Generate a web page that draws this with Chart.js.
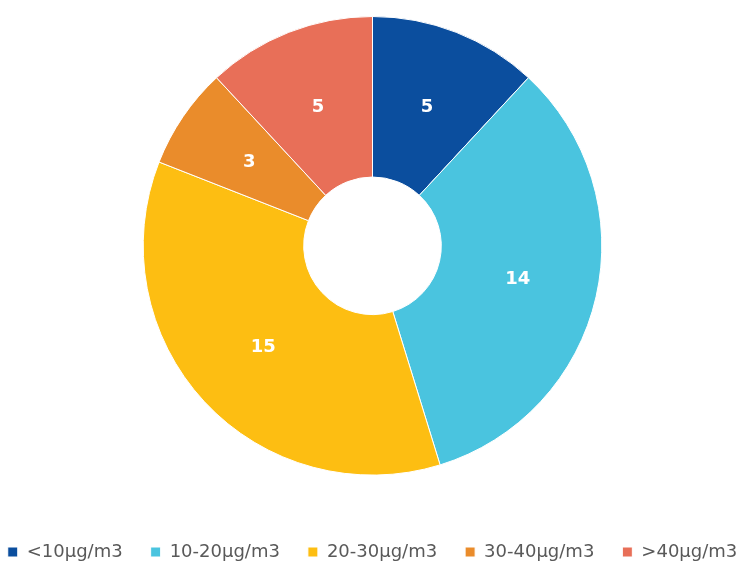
<!DOCTYPE html>
<html>
<head>
<meta charset="utf-8">
<script src="https://cdn.jsdelivr.net/npm/chart.js@4/dist/chart.umd.min.js"></script>
<style>
  html, body { margin: 0; padding: 0; background: #fff; }
  #wrap { width: 745px; height: 566px; }
</style>
</head>
<body>
<div id="wrap"><canvas id="pm"></canvas></div>
<script>
const categories = ['<10µg/m3', '10-20µg/m3', '20-30µg/m3', '30-40µg/m3', '>40µg/m3']
const counts = [5, 14, 15, 3, 5]
const sliceColors = ['#0B4E9E', '#4AC4DF', '#FDBE12', '#EA8C2B', '#E86F58']

// white value labels in the middle of each ring segment
const sliceLabels = {
  id: 'sliceLabels',
  afterDatasetsDraw(chart) {
    const ctx = chart.ctx
    const meta = chart.getDatasetMeta(0)
    ctx.save()
    ctx.font = 'bold 18px "DejaVu Sans", Verdana, sans-serif'
    ctx.fillStyle = '#ffffff'
    ctx.textAlign = 'center'
    ctx.textBaseline = 'middle'
    meta.data.forEach((arc, i) => {
      const p = arc.getProps(['x', 'y', 'startAngle', 'endAngle', 'innerRadius', 'outerRadius'], true)
      const mid = (p.startAngle + p.endAngle) / 2
      const r = (p.innerRadius + p.outerRadius) / 2
      ctx.fillText(String(counts[i]), p.x + Math.cos(mid) * r, p.y + Math.sin(mid) * r)
    })
    ctx.restore()
  },
}

new Chart(document.getElementById('pm'), {
  type: 'doughnut',
  data: {
    labels: categories,
    datasets: [{
      data: counts,
      backgroundColor: sliceColors,
      borderColor: '#ffffff',
      borderWidth: 1,
    }],
  },
  options: {
    responsive: true,
    maintainAspectRatio: false,
    animation: false,
    cutout: '30%',
    layout: { padding: { top: 16, bottom: -5, left: -40, right: -40 } },
    plugins: {
      tooltip: { enabled: false },
      legend: {
        position: 'bottom',
        title: { display: true, text: '', padding: { top: 25, bottom: 0 } },
        labels: {
          boxWidth: 10,
          boxHeight: 10,
          padding: 28,
          color: '#595959',
          font: { family: '"DejaVu Sans", Verdana, sans-serif', size: 18 },
        },
      },
    },
  },
  plugins: [sliceLabels],
})
</script>
</body>
</html>
